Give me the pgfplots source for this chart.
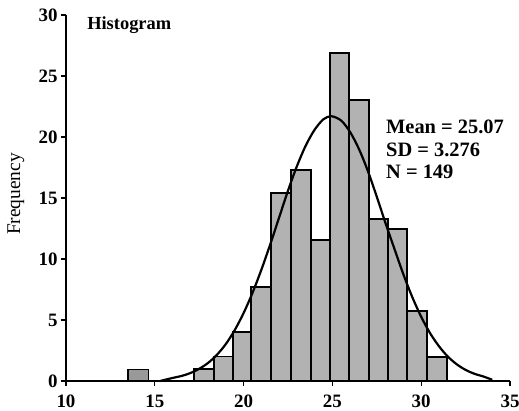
\documentclass[border=0pt]{standalone}
\usepackage{fontspec}
\setmainfont{Liberation Serif}
\usepackage{pgfplots}
\pgfplotsset{compat=1.18}
\begin{document}
\begin{tikzpicture}
\useasboundingbox (-66bp,-30bp) rectangle (453bp,381bp);
\begin{axis}[
  at={(0,0)}, anchor=south west,
  scale only axis, width=444bp, height=366bp,
  xmin=10, xmax=35, ymin=0, ymax=30,
  axis x line=bottom, axis y line=left,
  axis line style={-, line width=2bp},
  xtick={10,15,...,35}, ytick={0,5,...,30},
  minor tick num=0,
  tick align=outside, major tick length=5bp,
  tick style={line width=1.4bp, black},
  /pgf/number format/assume math mode=true,
  tick label style={font=\fontsize{19}{19}\selectfont\bfseries},
  xticklabel style={yshift=-5bp},
  yticklabel style={xshift=0bp},
  ylabel={Frequency},
  ylabel style={at={(axis description cs:-0.113,0.511)}, anchor=center, font=\fontsize{19.5}{19.5}\selectfont},
  clip=false,
]
\addplot[ybar interval, fill=black!40, draw=black, line width=1.8bp] coordinates {
 (13.51,0.95) (14.64,0)
};
\addplot[ybar interval, fill=black!30, draw=black, line width=1.8bp] coordinates {
 (17.21,0.96) (18.33,2.0) (19.39,4.0) (20.43,7.7) (21.53,15.4) (22.65,17.3)
 (23.78,11.56) (24.86,26.86) (25.95,23.0) (27.04,13.3) (28.13,12.43)
 (29.22,5.76) (30.31,1.94) (31.47,0)
};
\addplot[smooth, line width=2.2bp, black] coordinates {
 (15.3,0.0) (16,0.25) (16.5,0.41) (17,0.65) (17.5,1.0) (18,1.48) (18.5,2.15)
 (19,3.03) (19.5,4.17) (20,5.57) (20.5,7.22) (21,9.12) (21.5,11.2) (22,13.4)
 (22.5,15.6) (23,17.6) (23.5,19.3) (24,20.6) (24.5,21.46) (24.95,21.7)
 (25.5,21.34) (26,20.4) (26.5,19.0) (27,17.2) (27.5,15.1) (28,12.9)
 (28.5,10.8) (29,8.73) (29.5,6.87) (30,5.26) (30.5,3.92) (31,2.85)
 (31.5,2.0) (32,1.37) (32.5,0.91) (33,0.59) (33.5,0.37) (34,0.1)
};
\node[anchor=base west, font=\fontsize{18.5}{18.5}\selectfont\bfseries] at (axis cs:11.0,28.85) {Histogram};
\node[anchor=base west, font=\fontsize{20.5}{20.5}\selectfont\bfseries] at (axis cs:27.83,20.3) {Mean = 25.07};
\node[anchor=base west, font=\fontsize{20.5}{20.5}\selectfont\bfseries] at (axis cs:27.83,18.38) {SD = 3.276};
\node[anchor=base west, font=\fontsize{20.5}{20.5}\selectfont\bfseries] at (axis cs:27.83,16.56) {N = 149};
\end{axis}
\end{tikzpicture}
\end{document}
